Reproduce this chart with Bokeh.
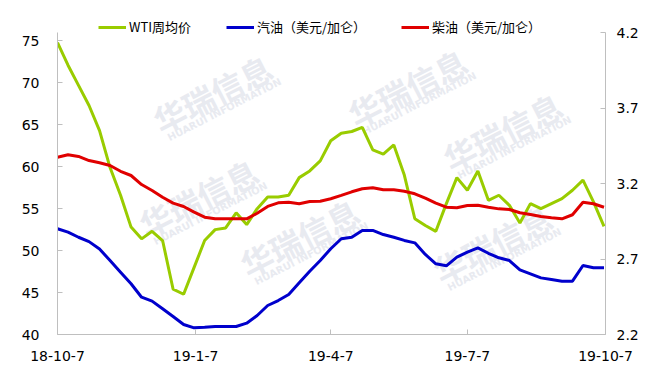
import pandas as pd
from bokeh.plotting import figure
from bokeh.models import (Range1d, LinearAxis, FixedTicker, CustomJSTickFormatter,
                          Legend, LegendItem, Label)
from bokeh.embed import file_html
from bokeh.resources import INLINE

# ---------------- data ----------------
start_date = "2018-10-07"
n_weeks = 53
dates = pd.date_range(start_date, periods=n_weeks, freq="7D")

wti = [74.8, 72.1, 69.7, 67.3, 64.3, 59.9, 56.6, 52.8, 51.4, 52.3, 51.2, 45.4, 44.8,
       48.0, 51.2, 52.5, 52.7, 54.5, 53.1, 55.0, 56.4, 56.4, 56.6, 58.7, 59.5, 60.7,
       63.1, 64.0, 64.2, 64.7, 62.0, 61.5, 62.6, 59.0, 53.8, 53.0, 52.3, 55.6, 58.7,
       57.2, 59.5, 56.0, 56.6, 55.4, 53.3, 55.6, 55.0, 55.6, 56.2, 57.2, 58.4, 55.8,
       52.9]

gasoline = [2.900, 2.878, 2.844, 2.815, 2.766, 2.690, 2.613, 2.536, 2.447, 2.421,
            2.370, 2.319, 2.266, 2.244, 2.248, 2.253, 2.253, 2.253, 2.275, 2.326,
            2.392, 2.425, 2.465, 2.542, 2.619, 2.690, 2.768, 2.834, 2.844, 2.889,
            2.889, 2.862, 2.844, 2.823, 2.807, 2.730, 2.668, 2.655, 2.712, 2.745,
            2.774, 2.738, 2.708, 2.690, 2.628, 2.602, 2.575, 2.564, 2.553, 2.553,
            2.657, 2.642, 2.642]

diesel = [3.374, 3.390, 3.379, 3.352, 3.337, 3.319, 3.281, 3.253, 3.193, 3.154,
          3.109, 3.070, 3.048, 3.010, 2.977, 2.966, 2.966, 2.966, 2.966, 3.003,
          3.048, 3.072, 3.076, 3.066, 3.081, 3.083, 3.099, 3.121, 3.145, 3.165,
          3.172, 3.158, 3.158, 3.149, 3.132, 3.103, 3.070, 3.043, 3.039, 3.054,
          3.056, 3.043, 3.032, 3.028, 3.006, 2.995, 2.981, 2.973, 2.966, 2.993,
          3.076, 3.066, 3.043]

series_labels = ["WTI周均价", "汽油（美元/加仑）", "柴油（美元/加仑）"]
x_tick_dates = ["2018-10-07", "2019-01-07", "2019-04-07", "2019-07-07", "2019-10-07"]
left_ticks = [40, 45, 50, 55, 60, 65, 70, 75]
left_bounds = (40, 76)
right_ticks = [2.2, 2.7, 3.2, 3.7, 4.2]
right_bounds = (2.2, 4.2)
watermark_text = "华瑞信息"
watermark_sub = "HUARUI INFORMATION"

# ---------------- styles / layout ----------------
GREEN = "#99CC00"
BLUE = "#0000CC"
RED = "#E00000"
AXIS_COLOR = "#BFBFBF"
WM_COLOR = "#E8EAF0"
TICK_FONT = "DejaVu Sans"
LEGEND_FONT = "Noto Sans CJK SC"

FIG_W, FIG_H = 641, 368
B_LEFT, B_RIGHT, B_TOP, B_BOTTOM = 57, 34, 12, 34
AXIS_TOP_PX = 32                         # where the axes end (pixel row)
frame_h = FIG_H - B_TOP - B_BOTTOM       # 322
axis_h = FIG_H - B_BOTTOM - AXIS_TOP_PX  # 302

def extended_top(lo, hi):
    # the frame is taller than the axes so that the legend fits inside it
    return lo + (hi - lo) * frame_h / axis_h

x_start = pd.Timestamp(x_tick_dates[0])
x_end = pd.Timestamp(x_tick_dates[-1])

p = figure(width=FIG_W, height=FIG_H, x_axis_type="datetime",
           x_range=Range1d(x_start, x_end),
           y_range=Range1d(left_bounds[0], extended_top(*left_bounds)),
           output_backend="svg", toolbar_location=None,
           min_border_left=B_LEFT, min_border_right=B_RIGHT,
           min_border_top=B_TOP, min_border_bottom=B_BOTTOM)
p.outline_line_color = None
p.xgrid.visible = False
p.ygrid.visible = False
p.background_fill_color = "white"
p.border_fill_color = "white"

p.extra_y_ranges = {"right": Range1d(right_bounds[0], extended_top(*right_bounds))}
right_axis = LinearAxis(y_range_name="right")
p.add_layout(right_axis, "right")

# ---- watermark (underlay), screen px relative to the frame's bottom-left ----
wm_centers = [(155, 241), (350, 247), (445, 203), (141, 137), (242, 97), (435, 91)]
for (sx, sy) in wm_centers:
    p.add_layout(Label(x=sx, y=sy, x_units="screen", y_units="screen", text=watermark_text,
                       angle=27, angle_units="deg", text_align="center", text_baseline="middle",
                       text_font=LEGEND_FONT, text_font_style="bold", text_font_size="32px",
                       text_color=WM_COLOR, level="underlay"))
    p.add_layout(Label(x=sx + 12, y=sy - 16, x_units="screen", y_units="screen", text=watermark_sub,
                       angle=27, angle_units="deg", text_align="center", text_baseline="middle",
                       text_font="DejaVu Sans", text_font_style="bold", text_font_size="10px",
                       text_color=WM_COLOR, level="underlay"))

r_wti = p.line(dates, wti, line_color=GREEN, line_width=3)
r_gas = p.line(dates, gasoline, line_color=BLUE, line_width=3, y_range_name="right")
r_die = p.line(dates, diesel, line_color=RED, line_width=3, y_range_name="right")

# ---- axes ----
xt = [pd.Timestamp(d).value // 10**6 for d in x_tick_dates]
p.xaxis.ticker = FixedTicker(ticks=xt)
p.xaxis.formatter = CustomJSTickFormatter(code="""
const d = new Date(tick);
return (d.getUTCFullYear() % 100) + '-' + (d.getUTCMonth() + 1) + '-' + d.getUTCDate();
""")
p.yaxis[0].ticker = FixedTicker(ticks=left_ticks)
p.yaxis[0].bounds = left_bounds
right_axis.ticker = FixedTicker(ticks=right_ticks)
right_axis.bounds = right_bounds

for ax in [p.xaxis[0], p.yaxis[0], right_axis]:
    ax.axis_line_color = AXIS_COLOR
    ax.axis_line_width = 1
    ax.major_tick_line_color = AXIS_COLOR
    ax.major_tick_in = 5
    ax.major_tick_out = 0
    ax.minor_tick_line_color = None
    ax.major_label_text_font = TICK_FONT
    ax.major_label_text_font_size = "14px"
    ax.major_label_text_color = "#000000"
p.yaxis[0].major_label_standoff = 18
right_axis.major_label_standoff = 11
p.xaxis[0].major_label_standoff = 16

# ---- legends: one per item, inside the (extended) frame above the axes ----
legend_x = [41, 169, 344]
legend_bottom = 298      # screen px above the frame bottom
for r, lab, lx in zip([r_wti, r_gas, r_die], series_labels, legend_x):
    leg = Legend(items=[LegendItem(label=lab, renderers=[r])], location=(lx, legend_bottom),
                 orientation="horizontal", padding=0, margin=0, spacing=0,
                 glyph_width=28, glyph_height=14, label_standoff=3, label_height=14,
                 label_text_font=LEGEND_FONT, label_text_font_size="13px",
                 label_text_color="#000000", border_line_color=None,
                 background_fill_alpha=0)
    p.add_layout(leg)

open("out.html", "w").write(file_html(p, INLINE))
